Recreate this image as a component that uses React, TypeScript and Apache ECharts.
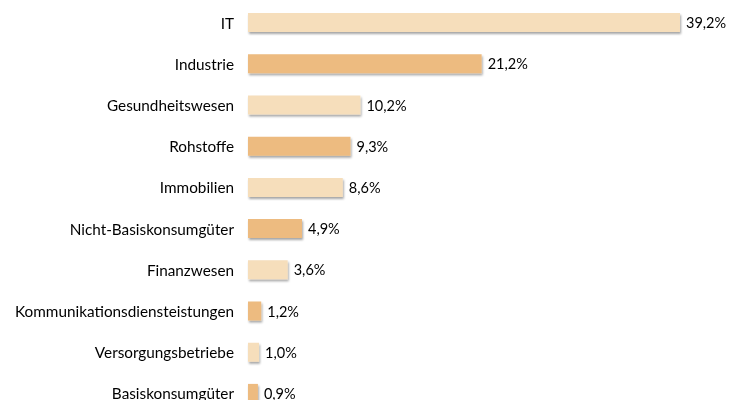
import React, { useEffect, useRef } from "react";
import * as echarts from "echarts";

const categories = [
  "IT",
  "Industrie",
  "Gesundheitswesen",
  "Rohstoffe",
  "Immobilien",
  "Nicht-Basiskonsumgüter",
  "Finanzwesen",
  "Kommunikationsdiensteistungen",
  "Versorgungsbetriebe",
  "Basiskonsumgüter",
];
const values = [39.2, 21.2, 10.2, 9.3, 8.6, 4.9, 3.6, 1.2, 1.0, 0.9];
const lightColor = "#F6DEBB";
const darkColor = "#EDBB80";

export default function App() {
  const ref = useRef<HTMLDivElement>(null);
  useEffect(() => {
    if (!ref.current) return;
    const chart = echarts.init(ref.current, undefined, { renderer: "svg" });
    chart.setOption({
      animation: false,
      grid: { left: 248, top: 2, width: 432, height: 412, containLabel: false },
      xAxis: {
        type: "value",
        min: 0,
        max: 39.2,
        show: false,
      },
      yAxis: {
        type: "category",
        data: categories,
        inverse: true,
        axisLine: { show: false },
        axisTick: { show: false },
        axisLabel: {
          margin: 14,
          fontFamily: "Lato",
          fontSize: 15.3,
          color: "#000",
        },
      },
      series: [
        {
          type: "bar",
          barWidth: 19,
          data: values.map((v, i) => ({
            value: v,
            itemStyle: { color: i % 2 === 0 ? lightColor : darkColor },
          })),
          itemStyle: {
            shadowColor: "rgba(0,0,0,0.35)",
            shadowBlur: 2,
            shadowOffsetX: 1,
            shadowOffsetY: 2,
          },
          label: {
            show: true,
            position: "right",
            distance: 6,
            fontFamily: "Lato",
            fontSize: 14.5,
            color: "#000",
            formatter: (p: any) => p.value.toFixed(1).replace(".", ",") + "%",
          },
        },
      ],
    });
    return () => chart.dispose();
  }, []);
  return (
    <div
      style={{
        position: "fixed",
        left: 0,
        top: 0,
        width: 729,
        height: 400,
        overflow: "hidden",
      }}
    >
      <div ref={ref} style={{ width: 729, height: 420 }} />
    </div>
  );
}
